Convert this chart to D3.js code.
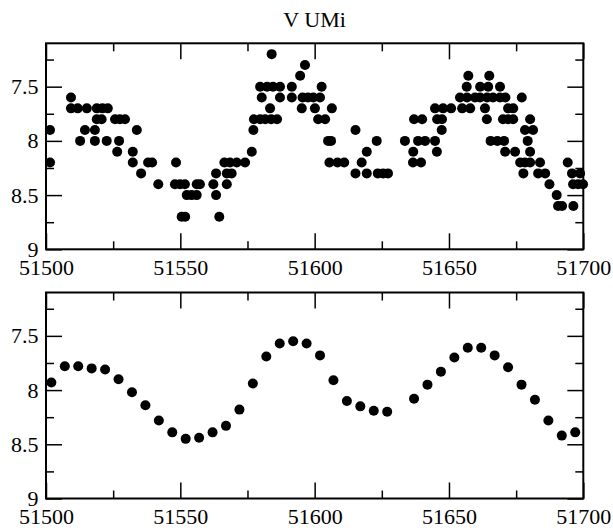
<!DOCTYPE html>
<html>
<head>
<meta charset="utf-8">
<script src="https://cdn.jsdelivr.net/npm/d3@7"></script>
<style>
  body { margin: 0; background: #fff; }
  svg { display: block; }
  svg text { font-family: "Liberation Serif", "Times New Roman", Times, serif; }
</style>
</head>
<body>
<div id="chart"></div>
<script>
// raw visual estimates (JD - 2400000) and magnitudes
const obsJD = [
  51501.5, 51501.5, 51509.3, 51509.3, 51511.8, 51512.7, 51514.5, 51515.2, 51518.2, 51518.2,
  51518.9, 51518.9, 51520.7, 51521.0, 51522.6, 51523.0, 51525.7, 51526.5, 51527.2, 51527.5,
  51529.4, 51532.3, 51532.3, 51533.8, 51535.4, 51538.0, 51539.5, 51541.8, 51548.0, 51548.4,
  51549.9, 51550.5, 51551.7, 51551.8, 51552.4, 51554.2, 51556.1, 51556.1, 51557.3, 51562.3,
  51563.3, 51563.3, 51564.5, 51566.4, 51567.3, 51567.3, 51568.5, 51569.1, 51571.0, 51574.1,
  51576.6, 51577.2, 51577.4, 51579.7, 51579.7, 51580.3, 51581.6, 51582.3, 51583.4, 51583.8,
  51584.0, 51584.5, 51586.0, 51587.1, 51587.1, 51591.5, 51591.5, 51594.6, 51595.2, 51595.5,
  51596.4, 51597.5, 51599.5, 51600.1, 51601.3, 51602.0, 51602.6, 51603.9, 51605.0, 51605.5,
  51606.1, 51606.4, 51608.5, 51611.0, 51615.2, 51615.2, 51617.5, 51619.4, 51619.4, 51623.1,
  51623.5, 51625.5, 51627.3, 51633.6, 51636.6, 51636.7, 51637.0, 51638.5, 51639.6, 51640.0,
  51641.1, 51644.8, 51644.8, 51645.5, 51645.6, 51647.3, 51647.4, 51647.8, 51650.8, 51654.1,
  51654.9, 51656.6, 51656.7, 51657.2, 51657.9, 51659.7, 51661.6, 51661.6, 51663.4, 51664.1,
  51664.2, 51664.6, 51665.0, 51665.5, 51666.4, 51668.0, 51669.0, 51669.0, 51670.1, 51670.5,
  51670.9, 51671.0, 51672.0, 51672.0, 51673.9, 51673.9, 51674.6, 51676.5, 51677.1, 51677.7,
  51678.3, 51678.3, 51679.3, 51680.2, 51680.2, 51680.2, 51681.3, 51683.2, 51683.9, 51685.8,
  51687.4, 51690.1, 51690.6, 51692.1, 51694.2, 51695.8, 51696.2, 51696.3, 51698.1, 51698.8,
  51699.9
];
const obsMag = [
  7.9, 8.2, 7.6, 7.7, 7.7, 8.0, 7.9, 7.7, 7.9, 8.0,
  7.7, 7.8, 7.8, 7.7, 8.0, 7.7, 7.8, 8.1, 8.0, 7.8,
  7.8, 8.1, 8.2, 7.9, 8.3, 8.2, 8.2, 8.4, 8.4, 8.2,
  8.4, 8.7, 8.4, 8.7, 8.5, 8.5, 8.5, 8.4, 8.4, 8.4,
  8.3, 8.5, 8.7, 8.2, 8.3, 8.4, 8.2, 8.3, 8.2, 8.2,
  8.1, 7.9, 7.8, 7.8, 7.5, 7.6, 7.8, 7.5, 7.7, 7.8,
  7.2, 7.5, 7.8, 7.5, 7.6, 7.6, 7.5, 7.4, 7.7, 7.6,
  7.3, 7.6, 7.6, 7.7, 7.8, 7.6, 7.5, 7.8, 8.0, 8.2,
  8.0, 7.7, 8.2, 8.2, 7.9, 8.3, 8.2, 8.1, 8.3, 8.0,
  8.3, 8.3, 8.3, 8.0, 8.2, 8.1, 7.8, 8.0, 8.2, 7.8,
  8.0, 8.0, 7.7, 8.1, 7.8, 7.9, 7.8, 7.7, 7.7, 7.6,
  7.7, 7.5, 7.6, 7.4, 7.7, 7.6, 7.6, 7.5, 7.7, 7.8,
  7.6, 7.5, 7.4, 8.0, 7.6, 8.0, 7.6, 7.5, 7.8, 8.0,
  8.1, 7.6, 7.8, 7.7, 7.8, 7.7, 8.1, 8.2, 7.6, 8.3,
  8.2, 7.9, 8.0, 8.2, 8.1, 7.8, 7.9, 8.3, 8.2, 8.3,
  8.4, 8.5, 8.6, 8.6, 8.2, 8.3, 8.4, 8.6, 8.4, 8.3,
  8.4
];

// 5-day means
const binJD = [
  51502, 51507, 51512, 51517, 51522, 51527, 51532, 51537, 51542, 51547,
  51552, 51557, 51562, 51567, 51572, 51577, 51582, 51587, 51592, 51597,
  51602, 51607, 51612, 51617, 51622, 51627, 51637, 51642, 51647, 51652,
  51657, 51662, 51667, 51672, 51677, 51682, 51687, 51692, 51697
];
const binMag = [
  7.93, 7.78, 7.78, 7.80, 7.81, 7.90, 8.02, 8.14, 8.28, 8.39,
  8.45, 8.44, 8.39, 8.33, 8.18, 7.94, 7.69, 7.57, 7.55, 7.57,
  7.68, 7.91, 8.10, 8.15, 8.19, 8.20, 8.08, 7.95, 7.83, 7.70,
  7.61, 7.61, 7.68, 7.79, 7.95, 8.09, 8.28, 8.42, 8.39
];

const title = 'V UMi';
const xDomain = [51500, 51700];
const yDomain = [7.1, 9];
const xMajor = [51500, 51550, 51600, 51650, 51700];
const xMinor = [51525, 51575, 51625, 51675];
const yMajor = [7.5, 8, 8.5, 9];
const yMinor = [7.25, 7.75, 8.25, 8.75];

const W = 613, H = 528;
const left = 46, plotW = 537.3, plotH = 206;
const panelTops = [43.3, 292.5];
const serif = '"Liberation Serif", "Times New Roman", Times, serif';

const svg = d3.select('#chart').append('svg')
  .attr('width', W)
  .attr('height', H);

const x = d3.scaleLinear().domain(xDomain).range([0, plotW]);
const y = d3.scaleLinear().domain(yDomain).range([0, plotH]);

svg.append('text')
  .attr('x', left + plotW / 2)
  .attr('y', 26.5)
  .attr('text-anchor', 'middle')
  .attr('font-family', serif)
  .attr('font-size', 22)
  .text(title);

const drawPanel = (top, jd, mag) => {
  const g = svg.append('g').attr('transform', `translate(${left},${top})`);

  const addAxis = (axis, tx, ty, showText) => {
    const a = g.append('g')
      .attr('transform', `translate(${tx},${ty})`)
      .call(axis)
      .attr('font-family', serif)
      .attr('font-size', 22);
    a.select('.domain').remove();
    a.selectAll('line').attr('stroke', '#000').attr('stroke-width', 1.5);
    if (showText) {
      a.selectAll('text').attr('fill', '#000');
    } else {
      a.selectAll('text').remove();
    }
  };

  // major ticks, pointing inward on all sides
  addAxis(d3.axisBottom(x).tickValues(xMajor).tickSize(-16).tickPadding(10).tickFormat(d3.format('d')), 0, plotH, true);
  addAxis(d3.axisTop(x).tickValues(xMajor).tickSize(-16), 0, 0, false);
  addAxis(d3.axisLeft(y).tickValues(yMajor).tickSize(-16).tickPadding(7.5).tickFormat(d => d), 0, 0, true);
  addAxis(d3.axisRight(y).tickValues(yMajor).tickSize(-16), plotW, 0, false);
  // minor ticks
  addAxis(d3.axisBottom(x).tickValues(xMinor).tickSize(-8), 0, plotH, false);
  addAxis(d3.axisTop(x).tickValues(xMinor).tickSize(-8), 0, 0, false);
  addAxis(d3.axisLeft(y).tickValues(yMinor).tickSize(-8), 0, 0, false);
  addAxis(d3.axisRight(y).tickValues(yMinor).tickSize(-8), plotW, 0, false);

  g.selectAll('circle.pt')
    .data(jd.map((d, i) => ({ jd: d, mag: mag[i] })))
    .join('circle')
    .attr('class', 'pt')
    .attr('cx', d => x(d.jd))
    .attr('cy', d => y(d.mag))
    .attr('r', 5)
    .attr('fill', '#000');

  g.append('rect')
    .attr('width', plotW)
    .attr('height', plotH)
    .attr('fill', 'none')
    .attr('stroke', '#000')
    .attr('stroke-width', 2);
};

drawPanel(panelTops[0], obsJD, obsMag);
drawPanel(panelTops[1], binJD, binMag);
</script>
</body>
</html>
